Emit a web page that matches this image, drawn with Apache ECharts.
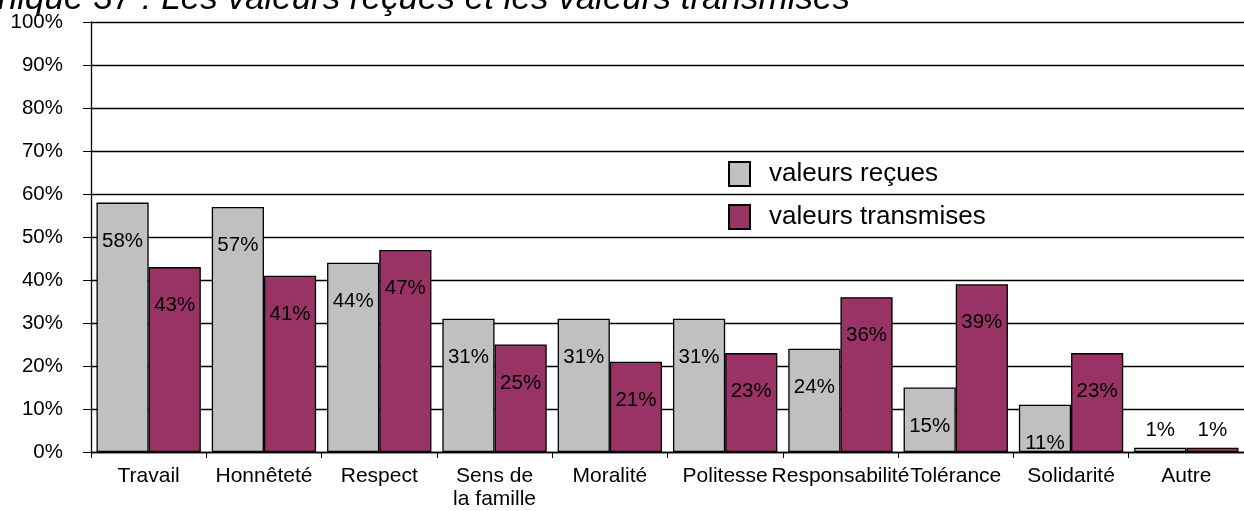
<!DOCTYPE html>
<html>
<head>
<meta charset="utf-8">
<script src="https://cdn.jsdelivr.net/npm/echarts@6/dist/echarts.min.js"></script>
<style>
  html, body { margin: 0; padding: 0; background: #fff; }
  #chart { width: 1244px; height: 511px; }
</style>
</head>
<body>
<div id="chart"></div>
<script>
// Valeurs reçues et transmises, en pourcentage des répondants
const categories = ['Travail', 'Honnêteté', 'Respect', 'Sens de\nla famille', 'Moralité',
                    'Politesse', 'Responsabilité', 'Tolérance', 'Solidarité', 'Autre'];
const valeursRecues = [58, 57, 44, 31, 31, 31, 24, 15, 11, 1];
const valeursTransmises = [43, 41, 47, 25, 21, 23, 36, 39, 23, 1];
const seriesNames = ['valeurs reçues', 'valeurs transmises'];
const titleText = 'Graphique 37 : Les valeurs reçues et les valeurs transmises';

const FONT = '"Liberation Sans", Arial, sans-serif';
const GRAY = '#C0C0C0';
const PLUM = '#993366';

// Very small bars carry their label above the bar instead of inside it
function toData(values) {
  return values.map(v => v < 5 ? { value: v, label: { position: 'top', distance: 7 } } : v);
}

function barSeries(name, values, color) {
  return {
    name: name,
    type: 'bar',
    data: toData(values),
    barGap: '0%',
    barCategoryGap: '9.5%',
    itemStyle: { color: color, borderColor: '#000', borderWidth: 1.3 },
    label: {
      show: true,
      position: 'insideTop',
      distance: 28,
      formatter: '{c}%',
      color: '#000',
      fontFamily: FONT,
      fontSize: 20.5
    },
    emphasis: { disabled: true },
    animation: false
  };
}

const chart = echarts.init(document.getElementById('chart'));
chart.setOption({
  backgroundColor: '#fff',
  animation: false,
  grid: { left: 91, top: 22, width: 1160, height: 431 },
  graphic: [{
    type: 'text',
    x: -80,
    y: -1,
    style: {
      text: titleText,
      font: 'italic 35px ' + FONT,
      fill: '#000',
      textVerticalAlign: 'middle'
    }
  }],
  legend: {
    orient: 'vertical',
    left: 723,
    top: 156,
    itemWidth: 21,
    itemHeight: 24,
    itemGap: 17,
    icon: 'rect',
    data: seriesNames,
    textStyle: { fontFamily: FONT, fontSize: 26, color: '#000', padding: [0, 0, 0, 14] }
  },
  xAxis: {
    type: 'category',
    data: categories,
    boundaryGap: true,
    axisLine: { lineStyle: { color: '#000', width: 1.3 } },
    axisTick: { show: true, length: 6, lineStyle: { color: '#000' } },
    axisLabel: {
      interval: 0,
      margin: 13,
      color: '#000',
      fontFamily: FONT,
      fontSize: 21,
      lineHeight: 23,
      verticalAlign: 'top'
    }
  },
  yAxis: {
    type: 'value',
    min: 0,
    max: 100,
    interval: 10,
    axisLine: { show: true, lineStyle: { color: '#000', width: 1.3 } },
    axisTick: { show: true, length: 8, lineStyle: { color: '#000' } },
    splitLine: { show: true, lineStyle: { color: '#000', width: 1.3 } },
    axisLabel: {
      margin: 28,
      formatter: '{value}%',
      color: '#000',
      fontFamily: FONT,
      fontSize: 20.5
    }
  },
  series: [
    barSeries(seriesNames[0], valeursRecues, GRAY),
    barSeries(seriesNames[1], valeursTransmises, PLUM)
  ]
});
</script>
</body>
</html>
